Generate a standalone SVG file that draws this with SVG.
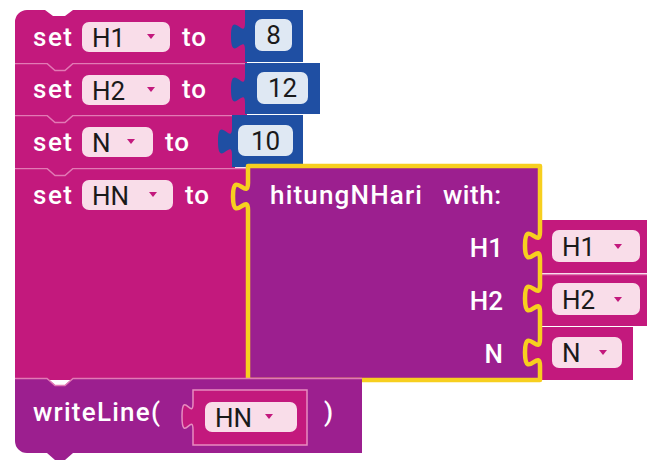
<svg xmlns="http://www.w3.org/2000/svg" width="647" height="463" viewBox="0 0 647 463">
<defs>
<style>
.pink{fill:#c3197d}
.purple{fill:#9c1f8f}
.blue{fill:#1f4fa3}
.fld{fill:#f9dde9}
.num{fill:#dfe8f3}
.sep{fill:none;stroke:#e27ab5;stroke-width:1.5}
.w{fill:#ffffff;font-family:Roboto,"Liberation Sans",sans-serif;font-size:26px;font-weight:500}
.k{fill:#1a1a1a;font-family:Roboto,"Liberation Sans",sans-serif;font-size:26px}
.arr{fill:#c3197d}
.yel{fill:none;stroke:#f7cf1f;stroke-width:4.5;stroke-linejoin:round}
</style>
</defs>
<rect width="647" height="463" fill="#ffffff"/>

<g id="set-HN">
<rect class="pink" x="15" y="168" width="233" height="212"/>
<path class="sep" d="M15,168.5 H47 l8,7 h10 l8,-7 H248"/>
<text class="w" x="33" y="204" textLength="39">set</text>
<rect class="fld" x="82" y="180" width="91" height="30" rx="7"/>
<text class="k" x="92" y="205">HN</text>
<path class="arr" d="M149,192 h8 l-4,5 z"/>
<text class="w" x="185" y="204" textLength="24">to</text>
</g>

<g id="set-N">
<rect class="pink" x="15" y="115" width="220" height="53"/>
<path class="sep" d="M15,115.5 H47 l8,7 h10 l8,-7 H232"/>
<text class="w" x="33" y="151" textLength="39">set</text>
<rect class="fld" x="82" y="127" width="71" height="30" rx="7"/>
<text class="k" x="92" y="152">N</text>
<path class="arr" d="M127,139 h8 l-4,5 z"/>
<text class="w" x="165" y="151" textLength="24">to</text>
</g>

<g id="set-H2">
<rect class="pink" x="15" y="63" width="232" height="52"/>
<path class="sep" d="M15,63.5 H47 l8,7 h10 l8,-7 H245"/>
<text class="w" x="33" y="98" textLength="39">set</text>
<rect class="fld" x="82" y="75" width="88" height="30" rx="7"/>
<text class="k" x="92" y="100">H2</text>
<path class="arr" d="M147,87 h8 l-4,5 z"/>
<text class="w" x="182" y="98" textLength="24">to</text>
</g>

<g id="set-H1">
<path class="pink" d="M15,63 V22 a12,12 0 0 1 12,-12 H45 l8,6 h12 l8,-6 H247 V63 Z"/>
<text class="w" x="33" y="46" textLength="39">set</text>
<rect class="fld" x="82" y="22" width="88" height="30" rx="7"/>
<text class="k" x="92" y="47">H1</text>
<path class="arr" d="M147,34 h8 l-4,5 z"/>
<text class="w" x="182" y="46" textLength="24">to</text>
</g>

<g id="num-8">
<path class="blue" d="M245,10 H303 V62 H245 V50 c0,-18 -14,14.4 -14,-13.5 s14,4.5 14,-13.5 Z"/>
<rect class="num" x="255" y="19" width="37" height="32" rx="7"/>
<text class="k" x="273.5" y="44" text-anchor="middle">8</text>
</g>

<g id="num-12">
<path class="blue" d="M245,63 H320 V114 H245 V103 c0,-18 -14,14.4 -14,-13.5 s14,4.5 14,-13.5 Z"/>
<rect class="num" x="257" y="72" width="51" height="32" rx="7"/>
<text class="k" x="282.5" y="97" text-anchor="middle">12</text>
</g>

<g id="num-10">
<path class="blue" d="M232,115 H303 V167 H232 V155 c0,-18 -14,14.4 -14,-13.5 s14,4.5 14,-13.5 Z"/>
<rect class="num" x="238" y="125" width="55" height="31" rx="7"/>
<text class="k" x="265.5" y="150" text-anchor="middle">10</text>
</g>

<g id="arg-H1">
<path class="pink" d="M541,220 H647 V273 H541 V259 c0,-18 -15,14.4 -15,-13.5 s15,4.5 15,-13.5 Z"/>
<rect class="fld" x="552" y="230" width="88" height="32" rx="7"/>
<text class="k" x="562" y="256">H1</text>
<path class="arr" d="M614,244 h8 l-4,5 z"/>
</g>

<g id="arg-H2">
<path class="pink" d="M541,274 H647 V326 H541 V312 c0,-18 -15,14.4 -15,-13.5 s15,4.5 15,-13.5 Z"/>
<path class="sep" d="M541,274.5 H647"/>
<rect class="fld" x="552" y="283" width="88" height="32" rx="7"/>
<text class="k" x="562" y="309">H2</text>
<path class="arr" d="M614,297 h8 l-4,5 z"/>
</g>

<g id="arg-N">
<path class="pink" d="M541,327 H633 V380 H541 V366 c0,-18 -15,14.4 -15,-13.5 s15,4.5 15,-13.5 Z"/>
<rect class="fld" x="552" y="337" width="70" height="31" rx="7"/>
<text class="k" x="562" y="362">N</text>
<path class="arr" d="M599,350 h8 l-4,5 z"/>
</g>

<g id="hitungNHari">
<path class="purple" d="M248,166 H540 V232 c0,18 -15,-14.4 -15,13.5 s15,-4.5 15,13.5 V285 c0,18 -15,-14.4 -15,13.5 s15,-4.5 15,13.5 V339 c0,18 -15,-14.4 -15,13.5 s15,-4.5 15,13.5 V380 H248 V210 c0,-18 -15,14.4 -15,-13.5 s15,4.5 15,-13.5 Z"/>
<path class="yel" d="M248,166 H540 V232 c0,18 -15,-14.4 -15,13.5 s15,-4.5 15,13.5 V285 c0,18 -15,-14.4 -15,13.5 s15,-4.5 15,13.5 V339 c0,18 -15,-14.4 -15,13.5 s15,-4.5 15,13.5 V380 H248 V210 c0,-18 -15,14.4 -15,-13.5 s15,4.5 15,-13.5 Z"/>
<text class="w" x="270" y="204" textLength="152">hitungNHari</text>
<text class="w" x="443" y="204" textLength="58">with:</text>
<text class="w" x="503" y="257" text-anchor="end">H1</text>
<text class="w" x="503" y="310" text-anchor="end">H2</text>
<text class="w" x="503" y="363" text-anchor="end">N</text>
</g>

<g id="writeLine">
<path class="purple" d="M15,378 H47 l8,7 h10 l8,-7 H362 V453 H73 l-8,7 h-10 l-8,-7 H27 a12,12 0 0 1 -12,-12 Z"/>
<path class="sep" d="M15,378.5 H47 l8,7 h10 l8,-7 H362" stroke="#c25ab5"/>
<path class="pink" d="M193,390 H307 V445 H193 V430 c0,-18 -11,14.4 -11,-13.5 s11,4.5 11,-13.5 Z" stroke="#e78cc0" stroke-width="1.5"/>
<rect class="fld" x="205" y="402" width="92" height="30" rx="7"/>
<text class="k" x="215" y="427">HN</text>
<path class="arr" d="M265,414 h8 l-4,5 z"/>
<text class="w" x="33" y="421" textLength="127">writeLine(</text>
<text class="w" x="324" y="421">)</text>
</g>
</svg>
